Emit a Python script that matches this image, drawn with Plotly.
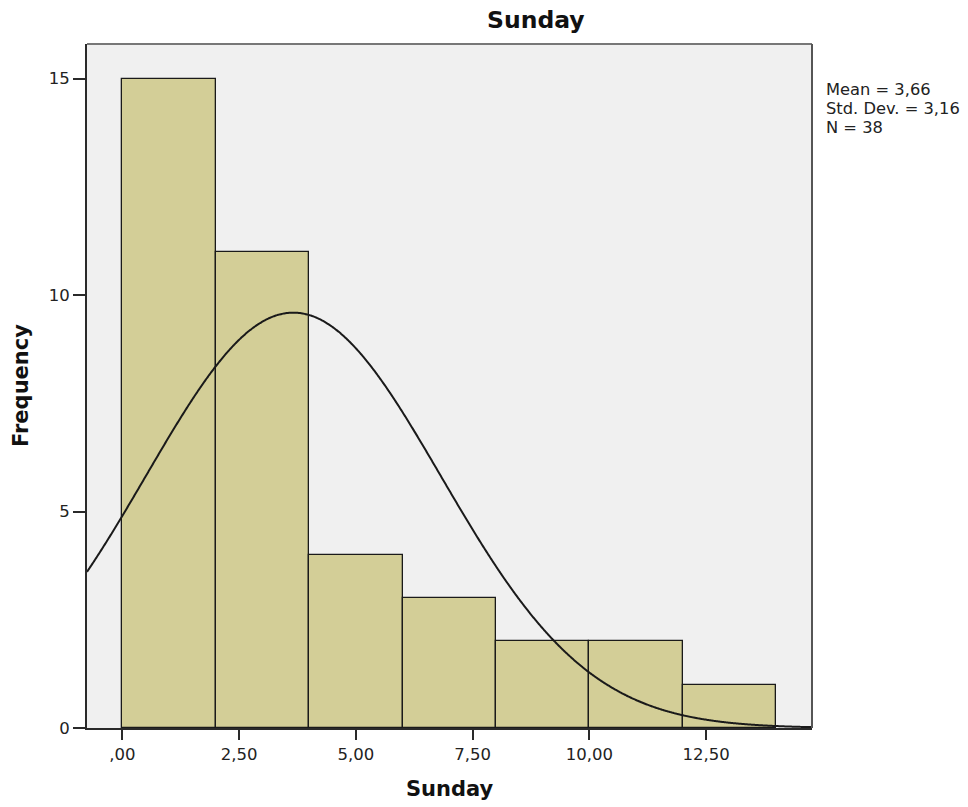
import numpy as np
import plotly.graph_objects as go

# Histogram of Sunday values (bin width 2)
bin_edges = [0, 2, 4, 6, 8, 10, 12, 14]
counts = [15, 11, 4, 3, 2, 2, 1]

# Summary statistics shown beside the plot
mean_val = 3.66
std_val = 3.16
n_val = 38

x_tickvals = [0, 2.5, 5, 7.5, 10, 12.5]
x_ticktext = [",00", "2,50", "5,00", "7,50", "10,00", "12,50"]
y_tickvals = [0, 5, 10, 15]
y_ticktext = ["0", "5", "10", "15"]

x_range = [-0.76, 14.77]
y_range = [0, 15.8]

bar_fill = "#D3CE97"
plot_bg = "#F0F0F0"
font_fam = "DejaVu Sans, Arial, sans-serif"


def comma(v):
    """Format a number with two decimals and a decimal comma."""
    return f"{v:.2f}".replace(".", ",")


centers = [(a + b) / 2 for a, b in zip(bin_edges[:-1], bin_edges[1:])]
widths = [b - a for a, b in zip(bin_edges[:-1], bin_edges[1:])]

# Fitted normal curve scaled to counts per bin
bw = widths[0]
xs = np.linspace(x_range[0], x_range[1], 600)
ys = n_val * bw / (std_val * np.sqrt(2 * np.pi)) * np.exp(-0.5 * ((xs - mean_val) / std_val) ** 2)

fig = go.Figure()
fig.add_trace(go.Bar(
    x=centers, y=counts, width=widths,
    marker=dict(color=bar_fill, line=dict(color="#1a1a1a", width=1.3)),
    hoverinfo="x+y",
))
fig.add_trace(go.Scatter(
    x=xs, y=ys, mode="lines",
    line=dict(color="#1a1a1a", width=2, shape="spline"),
    hoverinfo="skip",
))

W, H = 968, 807
L, R, T, B = 87, 156, 44, 79
pw = W - L - R
ph = H - T - B

stats_lines = [
    f"Mean = {comma(mean_val)}",
    f"Std. Dev. = {comma(std_val)}",
    f"N = {n_val}",
]
stats_annotations = [
    dict(text=line, xref="paper", yref="paper",
         x=1 + (824 - (L + pw)) / pw, y=1 - (78 + 19 * i - T) / ph,
         xanchor="left", yanchor="top", align="left", showarrow=False,
         font=dict(family=font_fam, size=16.3, color="#222"))
    for i, line in enumerate(stats_lines)
]

fig.update_layout(
    width=W, height=H,
    margin=dict(l=L, r=R, t=T, b=B, pad=0),
    paper_bgcolor="white",
    plot_bgcolor=plot_bg,
    showlegend=False,
    bargap=0,
    font=dict(family=font_fam, size=16, color="#222"),
    xaxis=dict(
        range=x_range, tickvals=x_tickvals, ticktext=x_ticktext,
        showgrid=False, zeroline=False,
        showline=True, linecolor="#2a2a2a", linewidth=2, mirror=False,
        ticks="outside", ticklen=10, tickwidth=2, tickcolor="#2a2a2a",
        tickfont=dict(family=font_fam, size=16.5, color="#222"),
    ),
    yaxis=dict(
        range=y_range, tickvals=y_tickvals, ticktext=y_ticktext,
        showgrid=False, zeroline=False,
        showline=True, linecolor="#2a2a2a", linewidth=2, mirror=False,
        ticks="outside", ticklen=12, tickwidth=2, tickcolor="#2a2a2a",
        tickfont=dict(family=font_fam, size=16.5, color="#222"),
    ),
    shapes=[
        # top and right frame of the plot area
        dict(type="line", xref="paper", yref="paper", x0=0, x1=1, y0=1, y1=1,
             line=dict(color="#777", width=2)),
        dict(type="line", xref="paper", yref="paper", x0=1, x1=1, y0=0, y1=1,
             line=dict(color="#555", width=2)),
    ],
    annotations=[
        dict(text="<b>Sunday</b>", xref="paper", yref="paper",
             x=(535.5 - L) / pw, y=1 + (T - 20) / ph,
             xanchor="center", yanchor="middle", showarrow=False,
             font=dict(family=font_fam, size=23.5, color="#111")),
        dict(text="<b>Sunday</b>", xref="paper", yref="paper",
             x=0.5, y=-(789 - (T + ph)) / ph,
             xanchor="center", yanchor="middle", showarrow=False,
             font=dict(family=font_fam, size=21, color="#111")),
        dict(text="<b>Frequency</b>", xref="paper", yref="paper",
             x=-(L - 21) / pw, y=0.5, textangle=-90,
             xanchor="center", yanchor="middle", showarrow=False,
             font=dict(family=font_fam, size=21, color="#111")),
    ] + stats_annotations,
)

fig.write_html("out.html")
